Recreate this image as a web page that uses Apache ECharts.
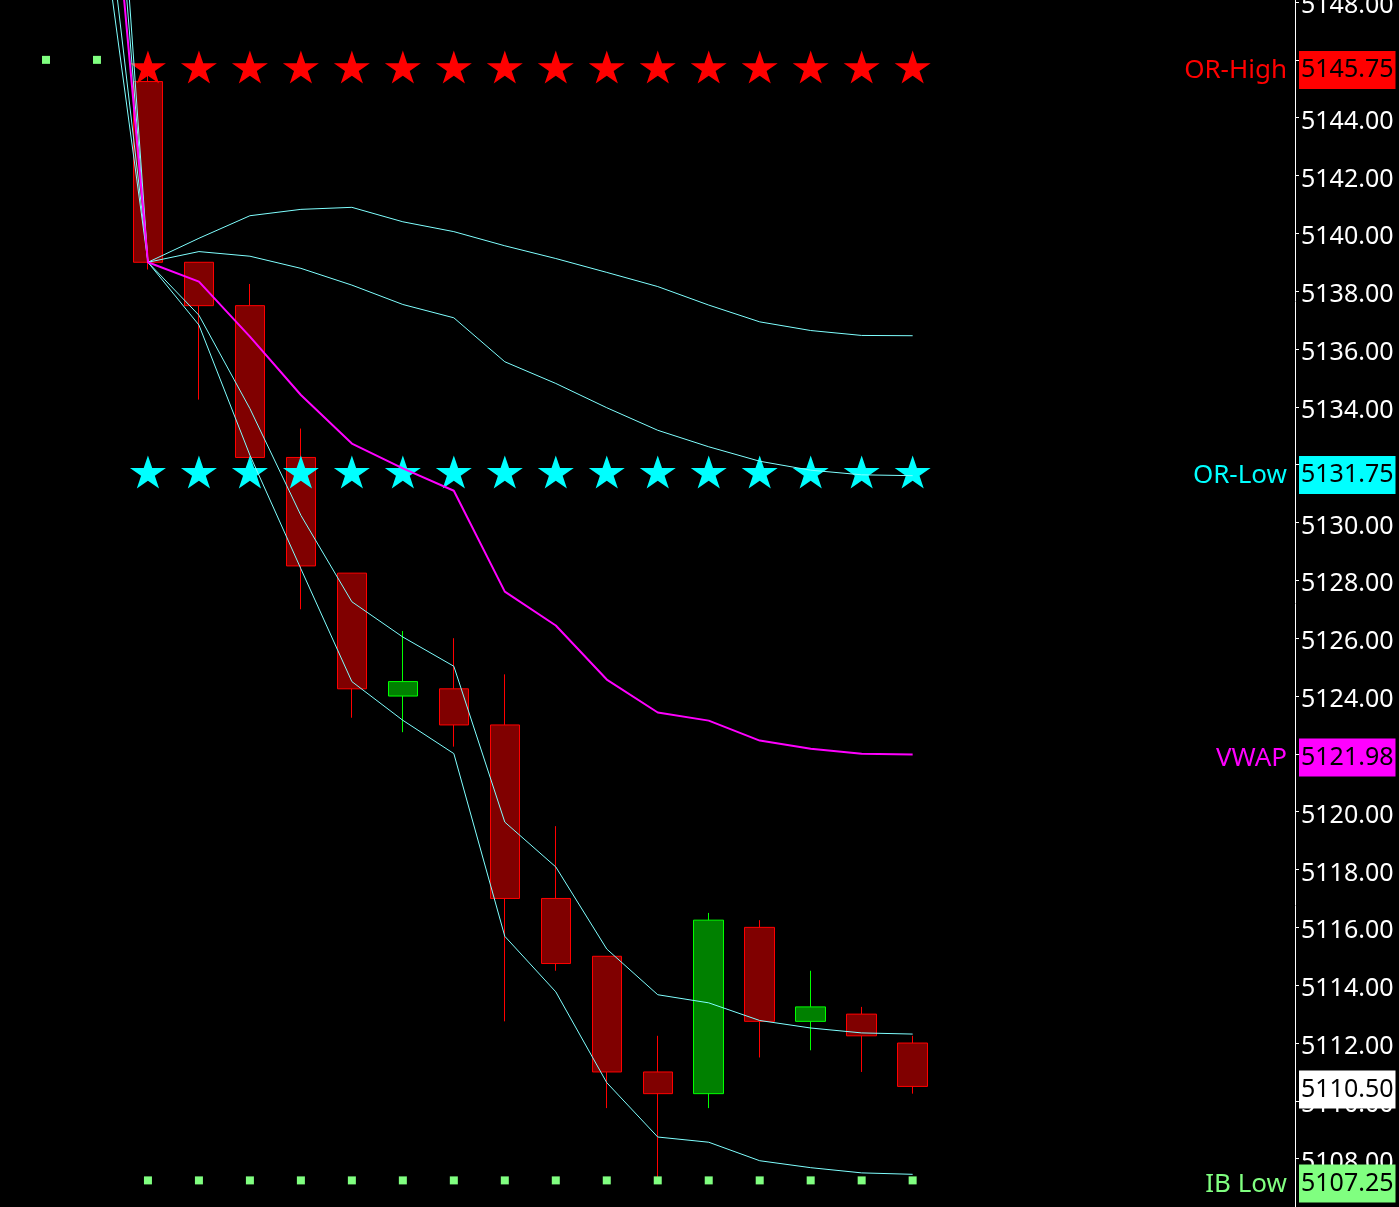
<!DOCTYPE html>
<html>
<head>
<meta charset="utf-8">
<script src="https://cdn.jsdelivr.net/npm/echarts@6/dist/echarts.min.js"></script>
<style>
html,body{margin:0;padding:0;background:#000;}
#c{width:1399px;height:1207px;}
</style>
</head>
<body>
<div id="c"></div>
<script>
// ---- data ----
// 25 slots: 2 before session, 16 session bars, 7 empty slots on the right
const categories = ['-2','-1','1','2','3','4','5','6','7','8','9','10','11','12','13','14','15','16','17','18','19','20','21','22','23'];
// [open, close, low, high] for the 16 session bars (slots 2..17)
const candles = [
  [5145.25, 5139.00, 5138.75, 5145.75],
  [5139.00, 5137.50, 5134.25, 5139.00],
  [5137.50, 5132.25, 5132.00, 5138.25],
  [5132.25, 5128.50, 5127.00, 5133.25],
  [5128.25, 5124.25, 5123.25, 5128.25],
  [5124.00, 5124.50, 5122.75, 5126.25],
  [5124.25, 5123.00, 5122.25, 5126.00],
  [5123.00, 5117.00, 5112.75, 5124.75],
  [5117.00, 5114.75, 5114.50, 5119.50],
  [5115.00, 5111.00, 5109.75, 5115.00],
  [5111.00, 5110.25, 5107.25, 5112.25],
  [5110.25, 5116.25, 5109.75, 5116.50],
  [5116.00, 5112.75, 5111.50, 5116.25],
  [5112.75, 5113.25, 5111.75, 5114.50],
  [5113.00, 5112.25, 5111.00, 5113.25],
  [5112.00, 5110.50, 5110.25, 5112.25]
];
// line studies, from slot 1 (previous value) to slot 17
const vwap   = [5158.44, 5139.00, 5138.33, 5136.43, 5134.41, 5132.73, 5131.87, 5131.10, 5127.61, 5126.44, 5124.57, 5123.43, 5123.15, 5122.46, 5122.18, 5122.00, 5121.98];
const upper2 = [5163.97, 5139.00, 5139.83, 5140.61, 5140.83, 5140.90, 5140.40, 5140.06, 5139.57, 5139.13, 5138.65, 5138.16, 5137.52, 5136.94, 5136.64, 5136.47, 5136.46];
const upper1 = [5160.92, 5139.00, 5139.37, 5139.21, 5138.79, 5138.21, 5137.54, 5137.08, 5135.56, 5134.81, 5133.97, 5133.19, 5132.62, 5132.12, 5131.81, 5131.65, 5131.62];
const lower1 = [5154.19, 5139.00, 5137.17, 5133.94, 5130.25, 5127.26, 5126.04, 5125.03, 5119.64, 5118.09, 5115.25, 5113.67, 5113.39, 5112.78, 5112.52, 5112.35, 5112.31];
const lower2 = [5152.06, 5139.00, 5136.83, 5132.33, 5128.40, 5124.50, 5123.16, 5122.01, 5115.69, 5113.77, 5110.63, 5108.75, 5108.57, 5107.93, 5107.69, 5107.51, 5107.46];
// reference levels
const orHigh = 5145.75;
const orLow = 5131.75;
const ibHigh = 5146.00;
const ibLow = 5107.25;
const vwapLast = 5121.98;
const lastPrice = 5110.50;
const levelNames  = ['OR-High', 'OR-Low', 'VWAP', 'IB Low', ''];
const levelValues = [orHigh, orLow, vwapLast, ibLow, lastPrice];
const firstBarSlot = 2;
const preSlots = [0, 1];
const yMin = 5106.33, yMax = 5148.07;

// ---- styles ----
const levelStyle = {
  'OR-High': {bg: '#FF0000', fg: '#000000', name: '#FF0000'},
  'OR-Low':  {bg: '#00FFFF', fg: '#000000', name: '#00FFFF'},
  'VWAP':    {bg: '#FF00FF', fg: '#000000', name: '#FF00FF'},
  'IB Low':  {bg: '#80FF80', fg: '#000000', name: '#80FF80'},
  '':        {bg: '#FFFFFF', fg: '#000000', name: '#FFFFFF'}
};
const FONT = 'Noto Sans';
const bandColor = '#7FFFFF';

// ---- build ----
const N = categories.length;
function pad(arr, start) {
  const out = new Array(N).fill('-');
  arr.forEach((v, i) => { out[start + i] = v; });
  return out;
}
const candleData = pad(candles, firstBarSlot);
const barSlots = candles.map((c, i) => categories[firstBarSlot + i]);
const starStyle = 'path://M50 0 L61.23 34.55 L97.55 34.55 L68.17 55.9 L79.39 90.45 L50 69.1 L20.61 90.45 L31.83 55.9 L2.45 34.55 L38.77 34.55 Z';

function lineSeries(name, arr, color, width, z) {
  return {
    name: name, type: 'line', data: pad(arr, firstBarSlot - 1),
    symbol: 'none', showSymbol: false, connectNulls: false,
    lineStyle: {color: color, width: width}, z: z, silent: true, animation: false
  };
}

const markLineData = levelValues.map((v, i) => {
  const st = levelStyle[levelNames[i]];
  return {
    yAxis: v,
    label: {backgroundColor: st.bg, color: st.fg}
  };
});
const markPointData = levelValues.map((v, i) => ({
  coord: [categories[N - 1], v], name: levelNames[i],
  label: {color: levelStyle[levelNames[i]].name}
})).filter(d => d.name !== '');

const chart = echarts.init(document.getElementById('c'), null, {renderer: 'canvas'});
chart.setOption({
  backgroundColor: '#000000',
  animation: false,
  grid: {left: 20.5, right: 104, top: 0, bottom: 0, containLabel: false, outerBoundsMode: 'none'},
  xAxis: {
    type: 'category', data: categories, boundaryGap: true,
    axisLine: {show: false}, axisTick: {show: false}, axisLabel: {show: false}, splitLine: {show: false}
  },
  yAxis: {
    type: 'value', position: 'right', min: yMin, max: yMax, splitNumber: 20,
    axisLine: {show: true, lineStyle: {color: '#FFFFFF', width: 1}},
    axisTick: {show: true, length: 4, lineStyle: {color: '#FFFFFF'}},
    splitLine: {show: false},
    axisLabel: {
      show: true, color: '#FFFFFF', fontFamily: FONT, fontSize: 25, margin: 6,
      verticalAlign: 'top', lineHeight: 8,
      showMinLabel: false, showMaxLabel: false, hideOverlap: false,
      formatter: v => v.toFixed(2)
    }
  },
  series: [
    {
      name: 'Price', type: 'candlestick', data: candleData, barWidth: 30, z: 2,
      itemStyle: {color: '#008000', color0: '#800000', borderColor: '#00FF00', borderColor0: '#FF0000', borderWidth: 1},
      silent: true
    },
    {
      name: 'OR High', type: 'scatter', z: 3, silent: true,
      data: barSlots.map(c => [c, orHigh]),
      symbol: starStyle, symbolSize: [36, 33], itemStyle: {color: '#FF0000', opacity: 1}
    },
    {
      name: 'OR Low', type: 'scatter', z: 3, silent: true,
      data: barSlots.map(c => [c, orLow]),
      symbol: starStyle, symbolSize: [36, 33], itemStyle: {color: '#00FFFF', opacity: 1}
    },
    {
      name: 'IB Low marks', type: 'scatter', z: 3, silent: true,
      data: barSlots.map(c => [c, ibLow]),
      symbol: 'rect', symbolSize: 8, itemStyle: {color: '#80FF80', opacity: 1}
    },
    {
      name: 'IB High marks', type: 'scatter', z: 3, silent: true,
      data: preSlots.map(s => [categories[s], ibHigh]),
      symbol: 'rect', symbolSize: 8, itemStyle: {color: '#80FF80', opacity: 1}
    },
    lineSeries('Upper 2', upper2, bandColor, 1, 4),
    lineSeries('Upper 1', upper1, bandColor, 1, 4),
    lineSeries('Lower 1', lower1, bandColor, 1, 4),
    lineSeries('Lower 2', lower2, bandColor, 1, 4),
    lineSeries('VWAP', vwap, '#FF00FF', 2, 5),
    {
      name: 'levels', type: 'line', data: [], z: 10, silent: true,
      markLine: {
        silent: true, symbol: 'none', animation: false,
        lineStyle: {color: 'rgba(0,0,0,0)', width: 1, type: 'solid'},
        label: {
          show: true, position: 'end', distance: 4,
          fontFamily: FONT, fontSize: 25, lineHeight: 27,
          padding: [8, 2, 3, 2], offset: [0, 3],
          formatter: p => Number(p.value).toFixed(2)
        },
        data: markLineData
      },
      markPoint: {
        silent: true, symbol: 'rect', symbolSize: 1, animation: false,
        itemStyle: {color: 'rgba(0,0,0,0)'},
        label: {
          show: true, position: 'inside', align: 'right', verticalAlign: 'middle',
          offset: [17.5, 4], fontFamily: FONT, fontSize: 26,
          formatter: p => p.name
        },
        data: markPointData
      }
    }
  ]
});
</script>
</body>
</html>
